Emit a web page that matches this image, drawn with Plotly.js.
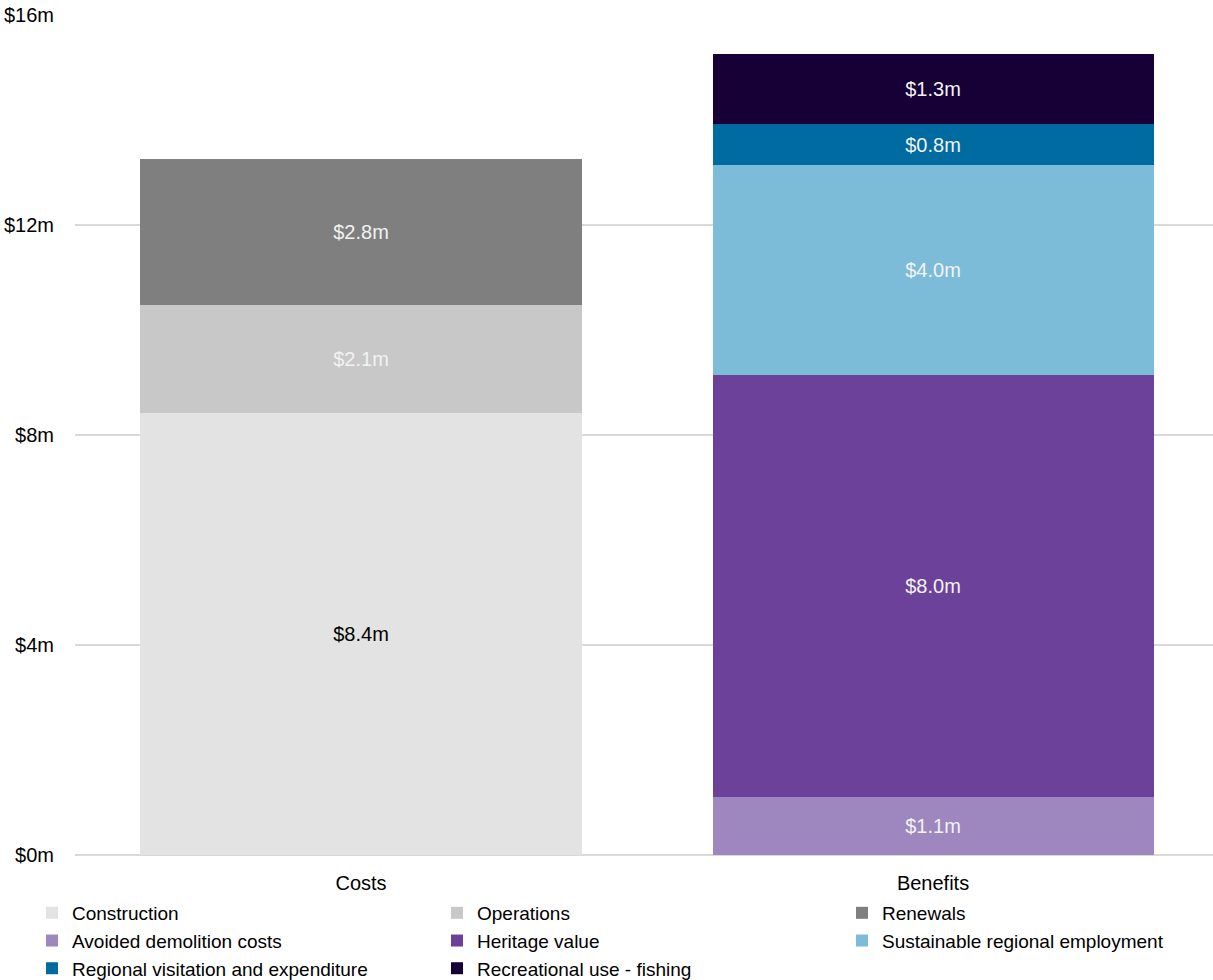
<!DOCTYPE html>
<html>
<head>
<meta charset="utf-8">
<script src="https://cdn.plot.ly/plotly-3.0.1.min.js"></script>
<style>html,body{margin:0;padding:0;background:#fff;}#chart{width:1213px;height:980px;}</style>
</head>
<body>
<div id="chart"></div>
<script>
const categories = ["Costs", "Benefits"];
const seriesNames = ["Construction", "Operations", "Renewals", "Avoided demolition costs", "Heritage value", "Sustainable regional employment", "Regional visitation and expenditure", "Recreational use - fishing"];
const construction = [8.42, null];
const operations = [2.06, null];
const renewals = [2.78, null];
const avoidedDemolition = [null, 1.10];
const heritageValue = [null, 8.04];
const sustainableEmployment = [null, 4.00];
const regionalVisitation = [null, 0.78];
const recreationalFishing = [null, 1.34];
const yTickValues = [0, 4, 8, 12, 16];
const yTickLabels = ["$0m", "$4m", "$8m", "$12m", "$16m"];

const colors = ["#e3e3e3", "#c8c8c8", "#7f7f7f", "#9e87be", "#6c4199", "#7cbcd8", "#006ba0", "#160035"];
const textColors = ["#000000", "#f2f2f2", "#f2f2f2", "#f2f2f2", "#f2f2f2", "#f2f2f2", "#f2f2f2", "#f2f2f2"];
const allSeries = [construction, operations, renewals, avoidedDemolition, heritageValue, sustainableEmployment, regionalVisitation, recreationalFishing];
const FONT = '"Liberation Sans", Arial, sans-serif';

const traces = allSeries.map((vals, i) => ({
  type: 'bar',
  name: seriesNames[i],
  x: categories,
  y: vals,
  marker: {color: colors[i], line: {width: 0}},
  texttemplate: '$%{y:.1f}m',
  textposition: 'inside',
  insidetextanchor: 'middle',
  textangle: 0,
  textfont: {family: FONT, size: 20, color: textColors[i]},
  hoverinfo: 'skip'
}));

const layout = {
  width: 1213, height: 980,
  barmode: 'stack',
  bargap: 0.229,
  margin: {l: 75, r: 0, t: 15, b: 125, autoexpand: false},
  paper_bgcolor: '#ffffff',
  plot_bgcolor: '#ffffff',
  font: {family: FONT, size: 20, color: '#000000'},
  showlegend: true,
  xaxis: {
    type: 'category',
    range: [-0.5, 1.4895],
    showgrid: false,
    zeroline: false,
    showline: false,
    ticks: '',
    ticklabelstandoff: 14,
    tickfont: {family: FONT, size: 20, color: '#000'}
  },
  yaxis: {
    range: [0, 16],
    tickvals: yTickValues,
    ticktext: yTickLabels,
    showgrid: true,
    gridcolor: '#d9d9d9',
    gridwidth: 2,
    zeroline: true,
    zerolinecolor: '#d9d9d9',
    zerolinewidth: 2,
    showline: false,
    ticks: '',
    ticklabelstandoff: 20,
    tickfont: {family: FONT, size: 20, color: '#000'}
  },
  legend: {
    orientation: 'h',
    x: -0.0378, xanchor: 'left',
    y: -0.0464, yanchor: 'top',
    entrywidth: 360, entrywidthmode: 'pixels',
    itemwidth: 30,
    traceorder: 'normal',
    font: {family: FONT, size: 19, color: '#000'},
    tracegroupgap: 0,
    bgcolor: 'rgba(0,0,0,0)'
  }
};

Plotly.newPlot('chart', traces, layout, {displayModeBar: false, staticPlot: true});
</script>
</body>
</html>
